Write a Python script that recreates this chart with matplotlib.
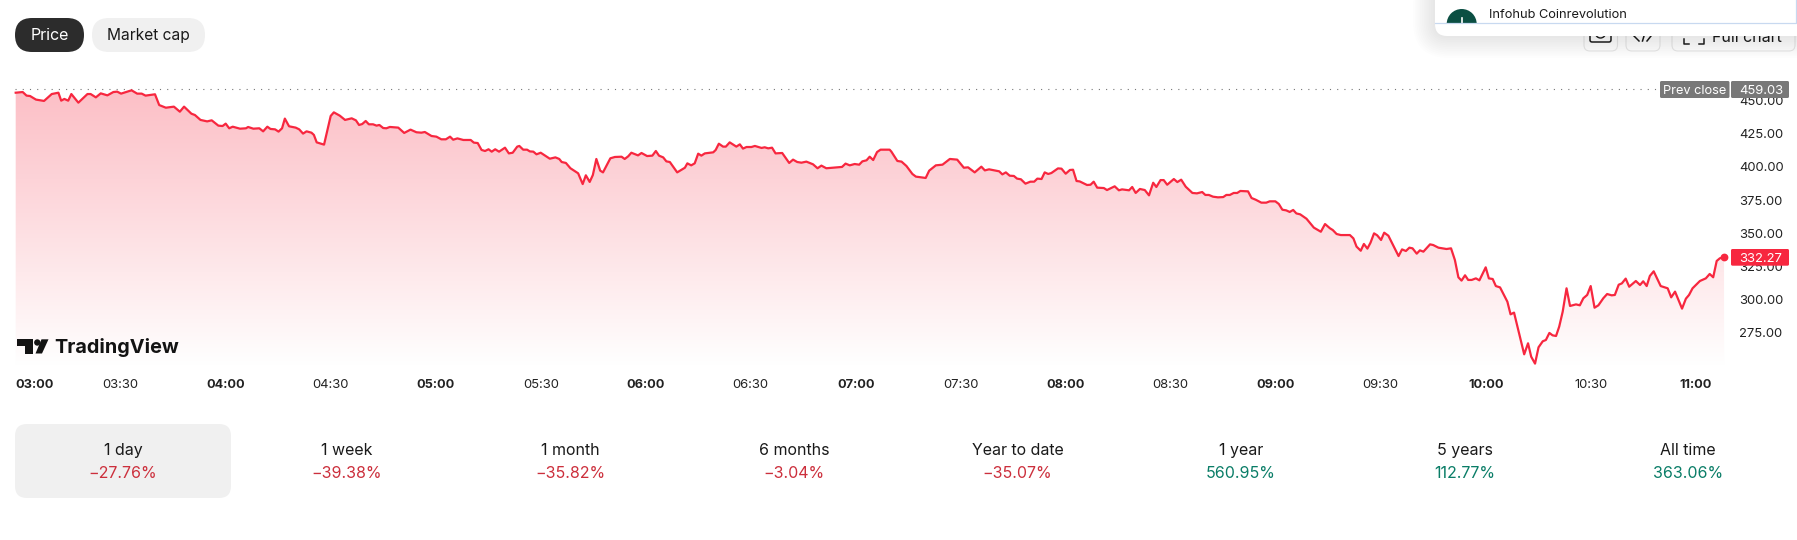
# -*- coding: utf-8 -*-
import numpy as np
from matplotlib import pyplot as plt
from matplotlib.colors import LinearSegmentedColormap
from matplotlib.patches import FancyBboxPatch, Circle, Polygon, Rectangle

plt.rcParams['font.family'] = ['Inter', 'DejaVu Sans']

W = 1797
H = 540

#%% Intraday price, minutes after 03:00
minutes = [
    0.0, 2.0, 3.1, 4.1, 5.8, 8.1, 10.3, 12.2, 13.0, 13.9, 15.0, 15.9, 17.9, 20.5, 21.4, 22.9, 24.3, 26.2, 27.9, 29.0,
    30.1, 33.1, 34.7, 36.0, 37.1, 39.8, 41.0, 42.9, 45.2, 46.9, 48.1, 50.2, 51.2, 52.8, 54.7, 56.0, 57.9, 59.1, 60.0, 61.0,
    62.0, 64.1, 65.8, 66.4, 67.9, 69.6, 70.7, 71.9, 72.8, 74.1, 75.1, 76.1, 76.9, 78.1, 80.0, 81.0, 82.1, 83.1, 84.5, 85.2,
    86.0, 88.1, 90.0, 90.9, 92.6, 94.1, 96.0, 97.2, 98.1, 99.0, 100.0, 100.9, 102.1, 103.1, 103.9, 105.0, 105.9, 106.9, 109.3, 111.0,
    112.8, 114.5, 115.9, 116.9, 118.8, 120.2, 121.6, 122.9, 124.1, 125.0, 126.2, 127.9, 130.0, 130.9, 132.0, 133.1, 134.1, 135.1, 136.0, 137.0,
    138.1, 139.8, 140.9, 142.0, 143.3, 143.9, 145.0, 146.1, 146.9, 147.9, 148.8, 150.0, 152.6, 154.2, 155.3, 156.0, 157.2, 158.5, 160.7, 162.0,
    162.9, 164.0, 164.9, 165.9, 167.0, 167.8, 169.9, 171.2, 173.1, 174.0, 175.0, 175.9, 177.8, 178.8, 180.4, 181.9, 182.9, 183.8, 185.0, 185.9,
    186.9, 189.0, 191.2, 191.9, 193.0, 194.0, 195.0, 195.9, 196.9, 199.3, 200.0, 200.9, 202.1, 202.9, 204.0, 205.9, 206.9, 207.8, 208.8, 210.2,
    211.2, 213.1, 214.0, 215.0, 216.1, 217.1, 219.0, 221.0, 222.1, 223.3, 224.5, 225.9, 227.8, 229.1, 230.2, 231.6, 233.5, 236.1, 237.1, 238.3,
    239.7, 241.0, 241.9, 243.1, 244.0, 245.0, 246.1, 247.1, 249.7, 250.2, 251.9, 253.1, 254.5, 256.2, 257.2, 260.0, 261.0, 262.9, 264.8, 266.9,
    269.0, 270.9, 272.1, 274.0, 275.9, 276.9, 278.1, 281.0, 281.9, 282.9, 284.0, 285.2, 286.1, 287.2, 288.5, 289.9, 291.0, 291.9, 293.1, 294.0,
    295.0, 295.9, 297.8, 298.8, 300.0, 301.2, 302.1, 303.1, 304.0, 306.1, 307.1, 308.0, 309.0, 310.9, 311.8, 314.0, 315.2, 316.1, 318.1, 319.0,
    320.0, 321.2, 322.6, 323.8, 325.0, 325.9, 327.1, 328.0, 329.0, 330.9, 331.9, 333.0, 334.3, 336.2, 337.5, 339.0, 339.9, 340.9, 342.1, 343.5,
    345.0, 345.9, 346.9, 348.0, 349.0, 349.9, 352.1, 353.1, 354.3, 355.9, 357.3, 358.3, 359.9, 360.9, 361.9, 363.0, 364.0, 365.0, 365.9, 367.0,
    368.8, 370.9, 372.9, 374.1, 375.5, 376.3, 377.4, 378.6, 381.2, 382.2, 383.1, 384.3, 385.2, 386.2, 387.1, 388.1, 389.0, 390.1, 391.0, 392.2,
    395.1, 396.1, 397.2, 398.2, 399.1, 400.3, 401.2, 402.2, 404.1, 405.0, 406.5, 408.8, 410.1, 411.2, 412.2, 413.1, 414.1, 415.0, 416.0, 417.2,
    418.2, 420.0, 420.9, 422.0, 422.9, 424.1, 426.2, 427.1, 428.1, 431.0, 432.1, 433.0, 434.1, 435.1, 436.3, 437.2, 438.2, 439.1, 440.1, 441.0,
    442.0, 443.1, 444.1, 445.8, 446.9, 447.9, 449.0, 450.0, 451.1, 452.2, 453.6, 454.7, 456.0, 456.9, 458.0, 458.9, 460.0, 461.0, 462.9, 464.1,
    465.0, 466.0, 466.9, 468.0, 470.0, 472.0, 473.0, 474.1, 476.1, 477.2, 478.1, 479.1, 481.2, 482.9, 484.0, 485.0, 486.0, 486.9, 488.1,
]
prices = [
    455.9, 456.4, 453.7, 453.4, 450.7, 449.7, 454.9, 455.9, 449.9, 451.2, 449.9, 454.9, 448.4, 454.9, 454.9, 452.4, 455.4, 453.9, 456.4, 456.7,
    455.2, 457.7, 455.2, 455.2, 453.7, 454.7, 446.6, 444.6, 445.4, 441.6, 445.4, 440.1, 439.1, 435.4, 434.3, 435.1, 431.1, 430.8, 432.6, 429.1,
    430.3, 428.8, 429.1, 430.1, 428.8, 429.1, 426.8, 430.3, 428.6, 428.3, 426.6, 429.1, 436.4, 430.6, 429.6, 428.3, 425.1, 426.8, 425.8, 424.1,
    418.5, 416.8, 438.4, 441.1, 438.6, 435.4, 436.6, 435.1, 431.6, 432.3, 434.6, 432.1, 432.1, 431.1, 431.6, 429.3, 429.1, 430.1, 429.6, 425.6,
    428.1, 426.1, 425.8, 426.3, 423.3, 422.8, 420.8, 420.8, 422.8, 420.5, 421.5, 420.3, 420.3, 418.3, 418.0, 412.8, 412.0, 413.3, 411.5, 413.3,
    411.5, 414.5, 410.2, 410.7, 415.3, 415.8, 413.0, 413.0, 411.7, 411.5, 409.5, 410.7, 406.2, 407.2, 406.0, 403.7, 403.0, 399.0, 395.2, 387.1,
    393.7, 388.7, 393.9, 406.0, 397.2, 395.9, 406.5, 407.5, 407.7, 406.0, 408.0, 410.7, 408.7, 410.5, 408.2, 408.5, 412.0, 408.5, 407.2, 404.2,
    403.7, 395.9, 399.4, 402.7, 401.2, 402.7, 410.0, 408.5, 410.2, 411.0, 412.8, 417.5, 415.3, 415.3, 418.5, 415.3, 417.0, 413.8, 415.0, 415.0,
    415.8, 414.3, 414.8, 414.0, 414.5, 410.2, 410.5, 403.0, 405.5, 403.7, 403.2, 404.0, 402.0, 399.0, 401.0, 399.0, 399.4, 400.0, 402.5, 401.2,
    402.2, 401.7, 404.2, 405.0, 407.7, 405.2, 411.2, 413.0, 413.0, 411.5, 404.5, 404.0, 400.7, 394.7, 392.7, 391.7, 397.2, 401.2, 401.7, 406.0,
    405.5, 399.4, 399.7, 395.9, 400.2, 397.4, 398.2, 396.7, 394.4, 395.9, 393.4, 393.2, 391.2, 390.7, 387.4, 388.9, 388.9, 391.2, 390.9, 395.9,
    394.7, 395.4, 398.9, 398.7, 394.9, 397.7, 397.9, 389.4, 389.1, 386.4, 386.6, 388.9, 384.4, 384.1, 382.6, 385.4, 382.4, 383.1, 382.4, 384.9,
    380.4, 383.4, 382.6, 378.6, 388.1, 384.9, 390.1, 390.1, 386.6, 390.9, 388.6, 390.4, 385.1, 380.4, 380.1, 381.1, 378.9, 378.9, 377.6, 377.1,
    377.3, 378.9, 378.9, 380.4, 380.4, 381.9, 381.6, 376.6, 375.3, 373.1, 373.1, 374.1, 374.1, 372.1, 367.8, 367.3, 366.1, 367.6, 365.0, 364.3,
    361.0, 354.3, 351.2, 357.0, 353.8, 352.5, 349.5, 348.7, 348.7, 346.2, 340.0, 336.9, 342.0, 338.5, 343.0, 350.0, 348.5, 345.0, 350.5, 348.2,
    332.9, 337.9, 336.7, 339.2, 338.7, 334.7, 337.2, 336.2, 341.7, 341.2, 339.2, 338.2, 338.7, 329.9, 316.9, 314.4, 318.4, 314.9, 314.9, 316.1,
    314.6, 324.4, 316.1, 315.6, 310.3, 309.3, 298.5, 289.0, 290.3, 258.9, 267.2, 257.1, 251.9, 264.2, 268.7, 269.7, 275.0, 273.2, 272.7, 279.7,
    291.0, 308.6, 295.3, 296.5, 295.8, 301.1, 303.6, 310.3, 294.0, 295.8, 301.1, 304.3, 303.3, 303.6, 311.3, 312.3, 315.9, 309.8, 314.1, 311.1,
    313.9, 310.3, 317.9, 321.4, 310.3, 308.6, 301.8, 306.1, 293.3, 300.8, 303.6, 308.6, 314.1, 316.1, 319.4, 316.9, 329.2, 331.2, 332.27,
]
prev_close = 459.03
last_price = 332.27

time_ticks = [0, 30, 60, 90, 120, 150, 180, 210, 240, 270, 300, 330, 360, 390, 420, 450, 480]
time_labels = ['03:00', '03:30', '04:00', '04:30', '05:00', '05:30', '06:00', '06:30', '07:00',
               '07:30', '08:00', '08:30', '09:00', '09:30', '10:00', '10:30', '11:00']
price_ticks = [275, 300, 325, 350, 375, 400, 425, 450]

periods = ['1 day', '1 week', '1 month', '6 months', 'Year to date', '1 year', '5 years', 'All time']
changes = ['\u221227.76%', '\u221239.38%', '\u221235.82%', '\u22123.04%', '\u221235.07%', '560.95%', '112.77%', '363.06%']

RED = '#f7273f'
TEXT = '#1a1a1a'
LOSS = '#cc2f3c'
GAIN = '#0a7d67'
GREY = '#f0f0f0'

fig = plt.figure(figsize=(W / 100, H / 100), dpi=100, facecolor='white')

#%% Price chart
left, right, top, bottom = 15, 1726, 85, 366
ax = fig.add_axes([left / W, 1 - bottom / H, (right - left) / W, (bottom - top) / H])
ax.patch.set_alpha(0)
for s in ax.spines.values():
    s.set_visible(False)

fade = LinearSegmentedColormap.from_list('fade', ['#fcbec5', '#fdd3d8', '#fee9eb', '#ffffff'])
xlim = (-0.2, 488.66)
ylim = (250.1, 461.7)
band = ax.fill_between(minutes, prices, ylim[0], color='none')
grad = ax.imshow(np.linspace(0, 1, 256).reshape(-1, 1), cmap=fade, aspect='auto',
                 extent=(xlim[0], xlim[1], ylim[0], ylim[1]), zorder=1)
grad.set_clip_path(band.get_paths()[0], transform=ax.transData)

ax.plot(minutes, prices, color=RED, lw=1.6, zorder=3, solid_joinstyle='round', clip_on=False)
ax.plot([minutes[-1]], [last_price], 'o', color=RED, ms=4.6, zorder=4, clip_on=False)
ax.axhline(prev_close, color='#777777', lw=0.8, ls=(0, (1, 5.5)), zorder=2)
ax.set_xlim(xlim)
ax.set_ylim(ylim)

ax.yaxis.tick_right()
ax.set_yticks(price_ticks)
ax.set_yticklabels(['%.2f' % p for p in price_ticks], fontsize=9.4, color='#222222')
ax.set_xticks(time_ticks)
ax.set_xticklabels(time_labels, fontsize=9.4, color='#222222')
ax.tick_params(axis='both', length=0)
ax.tick_params(axis='x', pad=9)
ax.tick_params(axis='y', pad=9.5)
for lab, t in zip(ax.get_xticklabels(), time_ticks):
    if t % 60 == 0:
        lab.set_fontweight('bold')
        lab.set_fontsize(9.2)
ax.get_xticklabels()[0].set_ha('left')

#%% Page furniture in pixel coordinates
ui = fig.add_axes([0, 0, 1, 1], zorder=5)
ui.set_xlim(0, W)
ui.set_ylim(H, 0)
ui.axis('off')


def round_box(x0, y0, x1, y1, r, **kw):
    box = FancyBboxPatch((x0 + r, y0 + r), x1 - x0 - 2 * r, y1 - y0 - 2 * r,
                         boxstyle='round,pad=%g,rounding_size=%g' % (r, r), **kw)
    ui.add_patch(box)
    return box


# toggle pills
round_box(15, 18, 84, 52, 17, fc='#2c2c2c', ec='none')
ui.text(49.5, 35.5, 'Price', color='white', fontsize=11.5, ha='center', va='center')
round_box(92, 18, 205, 52, 17, fc=GREY, ec='none')
ui.text(148.5, 35.5, 'Market cap', color=TEXT, fontsize=11.2, ha='center', va='center')

# toolbar buttons, mostly hidden by the card above them
for x0, x1 in [(1584, 1617.5), (1626, 1660), (1672, 1795)]:
    round_box(x0, 18, x1, 51, 6, fc='white', ec='#e8e8e8', lw=0.8, zorder=2)
round_box(1590, 22, 1611, 42, 2, fc='none', ec='#222222', lw=1.1, zorder=2)
ui.add_patch(Circle((1600.5, 33), 5, fc='none', ec='#222222', lw=1.0, zorder=2))
ui.plot([1634, 1639], [36, 41], color='#222222', lw=1.1, zorder=2)
ui.plot([1651, 1647], [36, 41], color='#222222', lw=1.1, zorder=2)
ui.plot([1644, 1642.5], [36, 41], color='#222222', lw=1.1, zorder=2)
ui.plot([1684, 1684, 1689], [39, 44, 44], color='#222222', lw=1.1, zorder=2)
ui.plot([1699, 1704, 1704], [44, 44, 39], color='#222222', lw=1.1, zorder=2)
ui.text(1747, 37, 'Full chart', color='#222222', fontsize=11.5, ha='center', va='center', zorder=2)

# floating card with a soft shadow
for i in range(12):
    g = 22 - i * 1.8
    round_box(1435 - g, -30, W + 40, 36 + g, 14 + g, fc='black', ec='none', alpha=0.008, zorder=3)
round_box(1435, -30, W - 1 + 20, 36, 12, fc='white', ec='none', zorder=4)
avatar = Circle((1461.7, 24), 15, fc='#0b4f43', ec='none', zorder=5)
ui.add_patch(avatar)
avatar.set_clip_path(Rectangle((1440, 0), 60, 23.3, transform=ui.transData))
ui.plot([1435, 1796, 1796], [23.3, 23.3, 0], color='#c8d9f0', lw=0.9, zorder=7)
ui.plot([1461.7, 1461.7], [18, 23], color='white', lw=1.2, zorder=6)
ui.text(1489, 15, 'Infohub Coinrevolution', color=TEXT, fontsize=9.2, ha='left', va='center', zorder=7)

# price tags on the right hand scale
round_box(1660, 81, 1729.5, 98, 1.5, fc='#787878', ec='none', zorder=3)
round_box(1731, 81, 1789, 98, 1.5, fc='#787878', ec='none', zorder=3)
ui.text(1695, 90.5, 'Prev close', color='white', fontsize=9.2, ha='center', va='center', zorder=4)
ui.text(1761, 90.5, '%.2f' % prev_close, color='white', fontsize=9.4, ha='center', va='center', zorder=4)
round_box(1731, 249, 1789, 265.7, 1.5, fc=RED, ec='none', zorder=3)
ui.text(1761, 258.5, '%.2f' % last_price, color='white', fontsize=9.4, ha='center', va='center', zorder=4)

# TradingView mark
logo = '#131313'
ui.add_patch(Polygon([(16.7, 339.3), (33.3, 339.3), (33.3, 353.5), (25, 353.5), (25, 346), (16.7, 346)],
                     fc=logo, ec='none'))
ui.add_patch(Circle((37.3, 342.5), 3.2, fc=logo, ec='none'))
ui.add_patch(Polygon([(41.5, 339.3), (48.5, 339.3), (42, 353.5), (35.5, 353.5)], fc=logo, ec='none'))
ui.text(54, 347.5, 'TradingView', color=logo, fontsize=14.3, fontweight='bold', ha='left', va='center')

# performance row
round_box(15, 424, 231, 498, 12, fc=GREY, ec='none')
for i, (name, change) in enumerate(zip(periods, changes)):
    cx = 123 + i * 223.6
    ui.text(cx, 450.5, name, color=TEXT, fontsize=11.5, ha='center', va='center')
    ui.text(cx, 473, change, color=LOSS if change.startswith('\u2212') else GAIN,
            fontsize=11.5, ha='center', va='center')

fig.savefig('out.png', dpi=100)
